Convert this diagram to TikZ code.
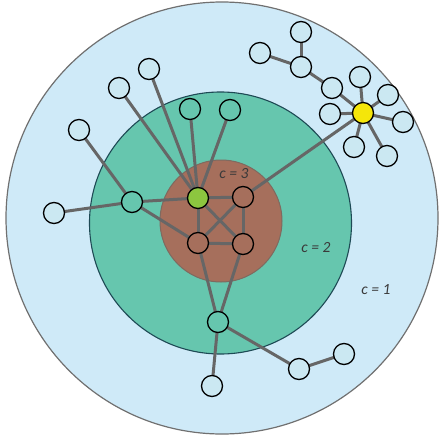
\documentclass[tikz,border=0pt]{standalone}
\usepackage{fontspec}
\newfontfamily\labelfont{Carlito}
\pgfdeclarelayer{bg}
\pgfdeclarelayer{edges}
\pgfsetlayers{bg,edges,main}
\definecolor{outerfill}{HTML}{CFEAF8}
\definecolor{outerline}{HTML}{707070}
\definecolor{midfill}{HTML}{66C6AE}
\definecolor{midline}{HTML}{1E4A55}
\definecolor{innerfill}{HTML}{A66F5C}
\definecolor{innerline}{HTML}{7E6A60}
\definecolor{edgecol}{HTML}{666666}
\definecolor{lbnode}{HTML}{CBE8F2}
\definecolor{gnode}{HTML}{8CC63F}
\definecolor{ynode}{HTML}{F5E60A}
\definecolor{txt}{HTML}{3A3A3A}
\tikzset{
  x=1pt, y=-1pt,
  vtx/.style={circle, draw=black, line width=1.3pt, minimum size=21pt, inner sep=0pt},
  lb/.style={vtx, fill=lbnode},
  tl/.style={vtx, fill=midfill},
  br/.style={vtx, fill=innerfill},
  gr/.style={vtx, fill=gnode},
  yl/.style={vtx, fill=ynode},
  edge/.style={draw=edgecol, line width=3pt},
  clabel/.style={font=\labelfont\itshape\fontsize{15.5}{15.5}\selectfont, text=txt, inner sep=0pt}
}
\begin{document}
\begin{tikzpicture}
\useasboundingbox (0,0) rectangle (439,441);
\begin{pgfonlayer}{bg}
  \filldraw[fill=outerfill, draw=outerline, line width=1.2pt] (222,218) circle (216);
  \filldraw[fill=midfill, draw=midline, line width=1.1pt] (220.5,223) circle (131);
  \filldraw[fill=innerfill, draw=innerline, line width=1pt] (221,221) circle (61);
\end{pgfonlayer}
% core
\node[gr] (g) at (198,198) {};
\node[br] (tr) at (243,197) {};
\node[br] (bl) at (198,243) {};
\node[br] (bre) at (243,244) {};
% teal
\node[tl] (t1) at (190,109) {};
\node[tl] (t2) at (230,110) {};
\node[tl] (t3) at (132,202) {};
\node[tl] (t4) at (218,322) {};
% light blue left
\node[lb] (a1) at (149,69) {};
\node[lb] (a2) at (119,88) {};
\node[lb] (a3) at (79,130) {};
\node[lb] (a4) at (54,213) {};
% bottom
\node[lb] (b1) at (212,386) {};
\node[lb] (b2) at (299,369) {};
\node[lb] (b3) at (344,354) {};
% top right
\node[yl] (y) at (363,113) {};
\node[lb] (c1) at (332,88) {};
\node[lb] (c2) at (360,77) {};
\node[lb] (c3) at (388,95) {};
\node[lb] (c4) at (330,114) {};
\node[lb] (c5) at (403,122) {};
\node[lb] (c6) at (354,147) {};
\node[lb] (c7) at (387,156) {};
\node[lb] (d1) at (301,67) {};
\node[lb] (d2) at (301,32) {};
\node[lb] (d3) at (260,53) {};
% labels
\node[clabel] (l3) at (234,174) {c = 3};
\node[clabel] (l2) at (316,248) {c = 2};
\node[clabel] (l1) at (376,290) {c = 1};
\begin{pgfonlayer}{edges}
  \foreach \n in {a1,a2,t1,t2,t3,tr,bl,bre} \draw[edge] (g.center) -- (\n.center);
  \draw[edge] (tr.center) -- (bl.center);
  \draw[edge] (tr.center) -- (bre.center);
  \draw[edge] (bl.center) -- (bre.center);
  \draw[edge] (t3.center) -- (a3.center);
  \draw[edge] (t3.center) -- (a4.center);
  \draw[edge] (t3.center) -- (bl.center);
  \draw[edge] (tr.center) -- (y.center);
  \draw[edge] (bl.center) -- (t4.center);
  \draw[edge] (bre.center) -- (t4.center);
  \draw[edge] (t4.center) -- (b1.center);
  \draw[edge] (t4.center) -- (b2.center);
  \draw[edge] (b2.center) -- (b3.center);
  \foreach \n in {c1,c2,c3,c4,c5,c6,c7} \draw[edge] (y.center) -- (\n.center);
  \draw[edge] (c1.center) -- (d1.center);
  \draw[edge] (d1.center) -- (d2.center);
  \draw[edge] (d1.center) -- (d3.center);
\end{pgfonlayer}
\end{tikzpicture}
\end{document}
